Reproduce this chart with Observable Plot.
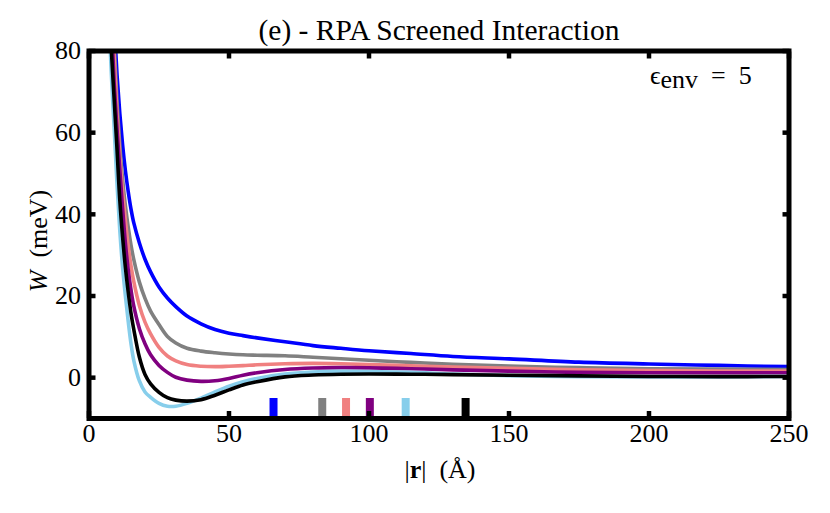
<!DOCTYPE html>
<html>
<head>
<meta charset="utf-8">
<script src="https://cdn.jsdelivr.net/npm/d3@7"></script>
<script src="https://cdn.jsdelivr.net/npm/@observablehq/plot@0.6"></script>
<style>
  body { margin: 0; background: #fff; width: 830px; height: 513px; overflow: hidden; }
  #title { font-family: "Liberation Serif", "DejaVu Serif", serif; font-size: 29.5px; text-align: center;
           height: 25px; padding-top: 18px; line-height: 25px; width: 830px; padding-left: 24px; box-sizing: content-box; white-space: nowrap; }
</style>
</head>
<body>
<div id="title">(e) - RPA Screened Interaction</div>
<div id="chart"></div>
<script>
// |r| grid (Å)
const r = [7, 8, 9, 10, 11, 12, 13, 14, 15, 16, 18, 20, 22, 25, 28, 31, 35, 40, 45, 50, 55, 60, 70, 80, 90, 100, 115, 130, 150, 175, 200, 225, 250];
// W (meV) for each curve
const wBlue   = [124.6, 102.6, 86.5, 74.3, 64.7, 57.0, 50.7, 45.6, 41.3, 37.9, 33.0, 29.0, 25.9, 22.2, 19.5, 17.4, 15.1, 13.2, 11.8, 10.9, 10.3, 9.75, 8.8, 7.85, 7.2, 6.6, 5.9, 5.2, 4.6, 3.8, 3.35, 3.0, 2.7];
const wGray   = [128, 100.9, 81.6, 67.5, 56.9, 48.6, 42.1, 36.9, 32.5, 28.9, 23.4, 19.4, 16.3, 13.0, 10.1, 8.5, 7.2, 6.5, 6.1, 5.8, 5.6, 5.5, 5.35, 5.0, 4.65, 4.25, 3.75, 3.3, 2.85, 2.45, 2.2, 2.1, 2.0];
const wPink   = [124.7, 97.4, 78.3, 64.5, 53.8, 45.4, 38.5, 32.3, 27.4, 23.5, 17.6, 13.6, 10.7, 7.4, 5.3, 4.1, 3.2, 2.8, 2.7, 2.8, 2.95, 3.15, 3.4, 3.5, 3.4, 3.2, 2.9, 2.6, 2.3, 1.95, 1.75, 1.65, 1.6];
const wPurple = [102, 87, 72, 61, 51, 41.5, 33, 26.5, 21.5, 17.5, 12, 8.3, 5.6, 3.0, 1.3, 0.1, -0.6, -0.9, -0.75, -0.2, 0.6, 1.2, 2.0, 2.35, 2.45, 2.4, 2.2, 1.9, 1.6, 1.3, 1.2, 1.2, 1.2];
const wSky    = [90, 74, 61, 47.5, 36, 27, 20, 13.8, 8.3, 4.2, -0.8, -3.5, -4.8, -6.3, -7.0, -7.0, -6.3, -5.0, -3.5, -2.1, -1.0, -0.2, 0.9, 1.4, 1.55, 1.5, 1.3, 0.9, 0.5, 0.25, 0.15, 0.2, 0.3];
const wBlack  = [94, 80, 68, 56, 43.5, 34.5, 27, 21, 15.8, 11.8, 5.0, 0.8, -1.5, -3.6, -4.9, -5.5, -5.75, -5.4, -4.3, -3.0, -1.8, -1.0, 0.2, 0.65, 0.85, 0.9, 0.85, 0.75, 0.6, 0.45, 0.3, 0.25, 0.3];

const seriesNames = ["blue", "gray", "pink", "purple", "sky", "black"];
const seriesColors = ["#0000ff", "#808080", "#f08080", "#800080", "#87ceeb", "#000000"];
const seriesValues = [wBlue, wGray, wPink, wPurple, wSky, wBlack];
// marker positions on the bottom (Å)
const markerR = [65.9, 83.3, 91.8, 100.3, 113.1, 134.5];

const xTicks = [0, 50, 100, 150, 200, 250];
const yTicks = [0, 20, 40, 60, 80];

const lines = seriesNames.map((name, i) => Plot.line(
  r.map((rv, j) => ({r: rv, w: seriesValues[i][j]})),
  {x: "r", y: "w", stroke: seriesColors[i], strokeWidth: 3.6, curve: "catmull-rom", clip: true}
));

const markers = markerR.map((m, i) => ({r: m, c: seriesColors[i]}));

const font = '"Liberation Serif", "DejaVu Serif", serif';
const chart = Plot.plot({
  width: 830,
  height: 470,
  marginTop: 7.5,
  marginLeft: 88.5,
  marginRight: 41.5,
  marginBottom: 95,
  style: {fontFamily: font, fontSize: "26px", background: "#fff", overflow: "visible"},
  x: {domain: [0, 250], label: null},
  y: {domain: [-10, 80], label: null},
  marks: [
    ...lines,
    Plot.ruleX(markers, {x: "r", y1: -10, y2: -5.1, stroke: "c", strokeWidth: 8}),
    Plot.axisX(xTicks, {anchor: "bottom", tickSize: 0, tickPadding: 5, fontSize: 26, label: null}),
    Plot.axisY(yTicks, {anchor: "left", tickSize: 0, tickPadding: 8, fontSize: 26, label: null}),
    Plot.axisX(xTicks, {anchor: "bottom", tickSize: -7, strokeWidth: 4.5, tickFormat: () => "", label: null}),
    Plot.axisX(xTicks, {anchor: "top", tickSize: -7, strokeWidth: 4.5, tickFormat: () => "", label: null}),
    Plot.axisY(yTicks, {anchor: "left", tickSize: -7, strokeWidth: 4.5, tickFormat: () => "", label: null}),
    Plot.axisY(yTicks, {anchor: "right", tickSize: -7, strokeWidth: 4.5, tickFormat: () => "", label: null}),
    Plot.frame({stroke: "#000", strokeWidth: 5})
  ]
});
document.getElementById("chart").appendChild(chart);

const svg = d3.select(chart);
// y label
const yl = svg.append("text")
  .attr("transform", "translate(47,198) rotate(-90)")
  .attr("text-anchor", "middle")
  .attr("font-family", font).attr("font-size", 26);
yl.append("tspan").attr("font-style", "italic").text("W");
yl.append("tspan").text("\u2002(meV)");
// x label
const xl = svg.append("text")
  .attr("x", 440).attr("y", 435)
  .attr("text-anchor", "middle")
  .attr("font-family", font).attr("font-size", 26);
xl.append("tspan").text("|");
xl.append("tspan").attr("font-weight", "bold").text("r");
xl.append("tspan").text("|\u2002(Å)");
// annotation
const an = svg.append("text")
  .attr("x", 650).attr("y", 41)
  .attr("text-anchor", "start")
  .attr("font-family", font).attr("font-size", 26);
an.append("tspan").text("ϵ");
an.append("tspan").attr("dy", 4).text("env");
an.append("tspan").attr("dy", -4).text("\u2002=\u20025");
</script>
</body>
</html>
